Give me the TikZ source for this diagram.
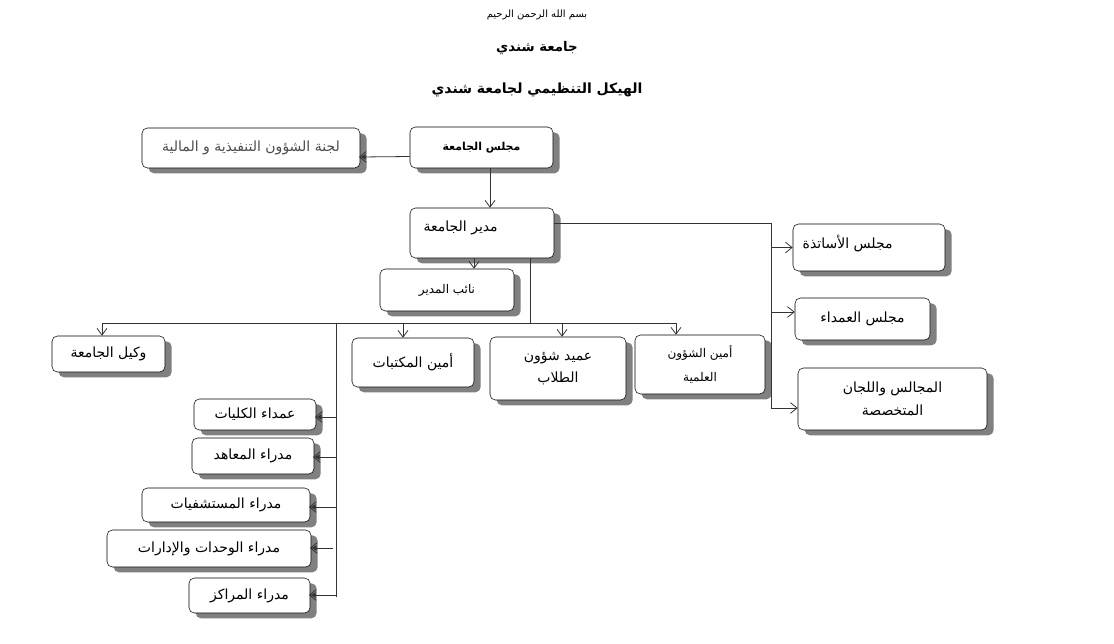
\documentclass[tikz,border=0pt]{standalone}
\usepackage{fontspec}
\newfontfamily\arabicfont[Script=Arabic]{DejaVu Sans}
\TeXXeTstate=1
\usetikzlibrary{arrows.meta,shadows,calc}
\newcommand{\artxt}[1]{\beginR #1\endR}

\tikzset{
  box/.style={draw, rounded corners=4pt, fill=white, inner sep=0pt, align=center,
    font=\arabicfont\fontsize{10.5}{17}\selectfont,
    drop shadow={shadow xshift=5pt, shadow yshift=-4pt, fill=black!50, opacity=1}},
  wh/.style 2 args={minimum width=#1*0.75pt, minimum height=#2*0.75pt},
  txt/.style={font=\arabicfont\fontsize{10.5}{17}\selectfont, inner sep=0pt},
  ln/.style={draw=black!80, line width=0.6pt},
  dn/.style={ln, -{Straight Barb[length=5pt,width=7.5pt]}},
  rt/.style={ln, -{Straight Barb[length=5pt,width=8pt]}},
  lt/.style={ln, -{Straight Barb[length=5pt,width=8pt,sep=-5pt]Latex[length=4pt,width=4.5pt]}},
}

\begin{document}
\begin{tikzpicture}[x=0.75pt,y=0.75pt,yscale=-1,xscale=1]
    \useasboundingbox (0,0) rectangle (1114,643);

    % titles
    \node[txt, font=\arabicfont\fontsize{7.5}{10}\selectfont] (bsm) at (537,15) {\artxt{بسم الله الرحمن الرحيم}};
    \node[txt, font=\arabicfont\bfseries\fontsize{10}{14}\selectfont] (uni) at (537,48) {\artxt{جامعة شندي}};
    \node[txt, font=\arabicfont\bfseries\fontsize{10.5}{16}\selectfont] (ttl) at (537,90) {\artxt{الهيكل التنظيمي لجامعة شندي}};

    % top boxes
    \node[box, wh={218}{40}, text=black!70] (lajna) at (251,148) {\artxt{لجنة الشؤون التنفيذية و المالية}};
    \node[box, wh={143}{41}, font=\arabicfont\bfseries\fontsize{8.2}{11}\selectfont] (majlis) at (481.5,147.5) {\artxt{مجلس الجامعة}};
    \node[box, wh={144}{50}, label={[txt, xshift=-16pt, yshift=4pt]center:{\beginR مدير الجامعة\endR}}] (mudir) at (482,233) {};
    \node[box, wh={134}{42}, font=\arabicfont\fontsize{9}{12}\selectfont] (naib) at (447,290) {\artxt{نائب المدير}};

    % middle row
    \node[box, wh={122}{49}] (maktabat) at (413,362.5) {\artxt{أمين المكتبات}};
    \node[box, wh={136}{63}] (amid) at (558,368.5) {\artxt{عميد شؤون}\\\artxt{الطلاب}};
    \node[box, wh={130}{59}, font=\arabicfont\fontsize{9}{18}\selectfont] (ilmiya) at (700,364.5) {\artxt{أمين الشؤون}\\\artxt{العلمية}};
    \node[box, wh={113}{36}] (wakil) at (108.5,354) {\artxt{وكيل الجامعة}};

    % right column
    \node[box, wh={152}{47}, label={[txt, xshift=-16pt, yshift=3pt]center:{\beginR مجلس الأساتذة\endR}}] (asatitha) at (869,247.5) {};
    \node[box, wh={135}{42}] (umada) at (862.5,319) {\artxt{مجلس العمداء}};
    \node[box, wh={189}{62}] (majalis) at (892.5,399) {\artxt{المجالس واللجان}\\\artxt{المتخصصة}};

    % left column
    \node[box, wh={122}{31}] (kulliyat) at (255,414.5) {\artxt{عمداء الكليات}};
    \node[box, wh={122}{36}] (maahid) at (253,456) {\artxt{مدراء المعاهد}};
    \node[box, wh={168}{34}] (mustashfa) at (226,505) {\artxt{مدراء المستشفيات}};
    \node[box, wh={204}{37}] (wahadat) at (209,548.5) {\artxt{مدراء الوحدات والإدارات}};
    \node[box, wh={121}{35}] (marakiz) at (249.5,595.5) {\artxt{مدراء المراكز}};

    % bus lines
    \coordinate (mj) at (490,0);
    \coordinate (nb) at (474,0);
    \coordinate (rtop) at (771,223);
    \coordinate (rbot) at (771,408);
    \coordinate (bus) at (530,323);
    \coordinate (lbot) at (336,597);

    \draw[lt] ($(majlis.west)+(0,9)$) -- ($(lajna.east)+(0,9)$);
    \draw[dn] (mj |- majlis.south) -- (mj |- mudir.north);
    \draw[dn] (nb |- mudir.south) -- (nb |- naib.north);

    \draw[ln] (mudir.east |- rtop) -- (rtop) -- (rbot);
    \draw[rt] (rtop |- asatitha.west) -- (asatitha.west);
    \draw[rt] (771,312) -- (umada.west |- 0,312);
    \draw[rt] (rbot) -- (majalis.west |- rbot);

    \draw[ln] (bus |- mudir.south) -- (bus);
    \draw[ln] (102,323) -- (676,323);
    \draw[dn] (102,323) -- (102,0 |- wakil.north);
    \draw[dn] (403,323) -- (403,0 |- maktabat.north);
    \draw[dn] (562,323) -- (562,0 |- amid.north);
    \draw[dn] (676,323) -- (676,0 |- ilmiya.north);

    \draw[ln] (336,323) -- (lbot);
    \draw[lt] (336,417) -- (kulliyat.east |- 0,417);
    \draw[lt] (336,457) -- (maahid.east |- 0,457);
    \draw[lt] (336,507) -- (mustashfa.east |- 0,507);
    \draw[lt] (333,548) -- (wahadat.east |- 0,548);
    \draw[lt] (336,595) -- (marakiz.east |- 0,595);
\end{tikzpicture}
\end{document}
